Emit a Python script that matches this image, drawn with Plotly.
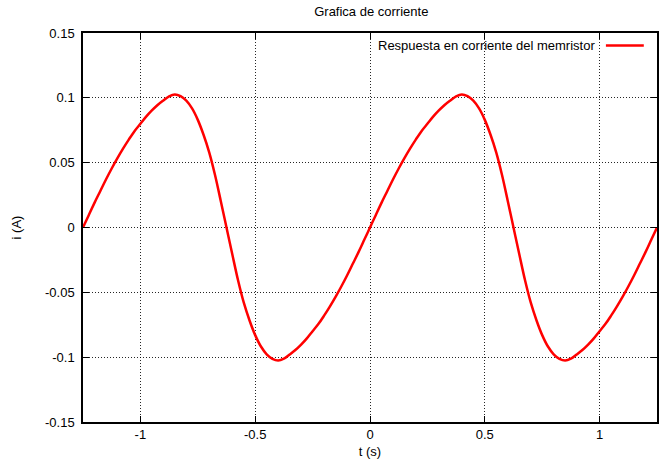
import plotly.graph_objects as go

# time samples (s)
t = [-1.25, -1.225, -1.2, -1.175, -1.15, -1.125, -1.1, -1.075, -1.05, -1.025,
     -1.0, -0.975, -0.95, -0.925, -0.9, -0.875, -0.85, -0.825, -0.8, -0.775,
     -0.75, -0.725, -0.7, -0.675, -0.65,
     -0.625, -0.6, -0.575, -0.55, -0.525, -0.5, -0.475, -0.45, -0.425, -0.4,
     -0.375, -0.35, -0.325, -0.3, -0.275, -0.25, -0.225, -0.2, -0.175, -0.15,
     -0.125, -0.1, -0.075, -0.05, -0.025,
     0.0, 0.025, 0.05, 0.075, 0.1, 0.125, 0.15, 0.175, 0.2, 0.225,
     0.25, 0.275, 0.3, 0.325, 0.35, 0.375, 0.4, 0.425, 0.45, 0.475,
     0.5, 0.525, 0.55, 0.575, 0.6,
     0.625, 0.65, 0.675, 0.7, 0.725, 0.75, 0.775, 0.8, 0.825, 0.85,
     0.875, 0.9, 0.925, 0.95, 0.975, 1.0, 1.025, 1.05, 1.075, 1.1,
     1.125, 1.15, 1.175, 1.2, 1.225, 1.25]

# current (A)
i_cur = [0, 0.0095, 0.019, 0.028, 0.037, 0.0455, 0.0535, 0.061, 0.068, 0.0745,
         0.080, 0.0855, 0.0903, 0.0945, 0.098, 0.1012, 0.1026, 0.1013, 0.0978, 0.0918,
         0.0830, 0.0715, 0.0578, 0.0405, 0.0205,
         0, -0.0205, -0.0405, -0.0578, -0.0715, -0.0830, -0.0918, -0.0978, -0.1013, -0.1026,
         -0.1012, -0.098, -0.0945, -0.0903, -0.0855, -0.080, -0.0745, -0.068, -0.061, -0.0535,
         -0.0455, -0.037, -0.028, -0.019, -0.0095,
         0, 0.0095, 0.019, 0.028, 0.037, 0.0455, 0.0535, 0.061, 0.068, 0.0745,
         0.080, 0.0855, 0.0903, 0.0945, 0.098, 0.1012, 0.1026, 0.1013, 0.0978, 0.0918,
         0.0830, 0.0715, 0.0578, 0.0405, 0.0205,
         0, -0.0205, -0.0405, -0.0578, -0.0715, -0.0830, -0.0918, -0.0978, -0.1013, -0.1026,
         -0.1012, -0.098, -0.0945, -0.0903, -0.0855, -0.080, -0.0745, -0.068, -0.061, -0.0535,
         -0.0455, -0.037, -0.028, -0.019, -0.0095, 0]

x_ticks = [-1, -0.5, 0, 0.5, 1]
x_tick_labels = ["-1", "-0.5", "0", "0.5", "1"]
y_ticks = [-0.15, -0.1, -0.05, 0, 0.05, 0.1, 0.15]
y_tick_labels = ["-0.15", "-0.1", "-0.05", "0", "0.05", "0.1", "0.15"]

series_name = "Respuesta en corriente del memristor"
title_text = "Grafica de corriente"
x_title = "t (s)"
y_title = "i (A)"

FONT = "Liberation Sans, Arial, sans-serif"
FS = 13

fig = go.Figure()
fig.add_trace(go.Scatter(
    x=t, y=i_cur, mode="lines", name=series_name,
    line=dict(color="#ff0000", width=2.5, shape="spline", smoothing=1.0),
    showlegend=False,
))

axis_common = dict(
    showline=True, linecolor="black", linewidth=1.5, mirror="ticks",
    ticks="inside", ticklen=6, tickcolor="black", tickwidth=1,
    showgrid=True, gridcolor="rgba(0,0,0,0.85)", griddash="1px,2px", gridwidth=1,
    zeroline=False,
    tickfont=dict(family=FONT, size=FS, color="black"),
)

fig.update_xaxes(
    range=[-1.25, 1.25], tickvals=x_ticks, ticktext=x_tick_labels,
    title=dict(text=x_title, font=dict(family=FONT, size=FS, color="black"), standoff=6),
    **axis_common,
)
fig.update_yaxes(
    range=[-0.15, 0.15], tickvals=y_ticks, ticktext=y_tick_labels,
    title=dict(text=y_title, font=dict(family=FONT, size=FS, color="black"), standoff=20),
    ticklabelstandoff=4,
    **axis_common,
)

# gnuplot-style key: text on the left, line sample on the right
fig.add_annotation(
    x=0.896, y=0.968, xref="paper", yref="paper", text=series_name,
    showarrow=False, xanchor="right", yanchor="middle",
    font=dict(family=FONT, size=FS, color="black"),
)
fig.add_shape(
    type="line", xref="paper", yref="paper",
    x0=0.911, x1=0.977, y0=0.968, y1=0.968,
    line=dict(color="#ff0000", width=2.5),
)

fig.update_layout(
    width=666, height=464,
    margin=dict(l=83, r=7, t=33, b=42),
    paper_bgcolor="white", plot_bgcolor="white",
    title=dict(text=title_text, x=0.5575, xanchor="center", y=0.975, yanchor="middle",
               font=dict(family=FONT, size=FS, color="black")),
    font=dict(family=FONT, size=FS, color="black"),
)

fig.write_html("out.html")
